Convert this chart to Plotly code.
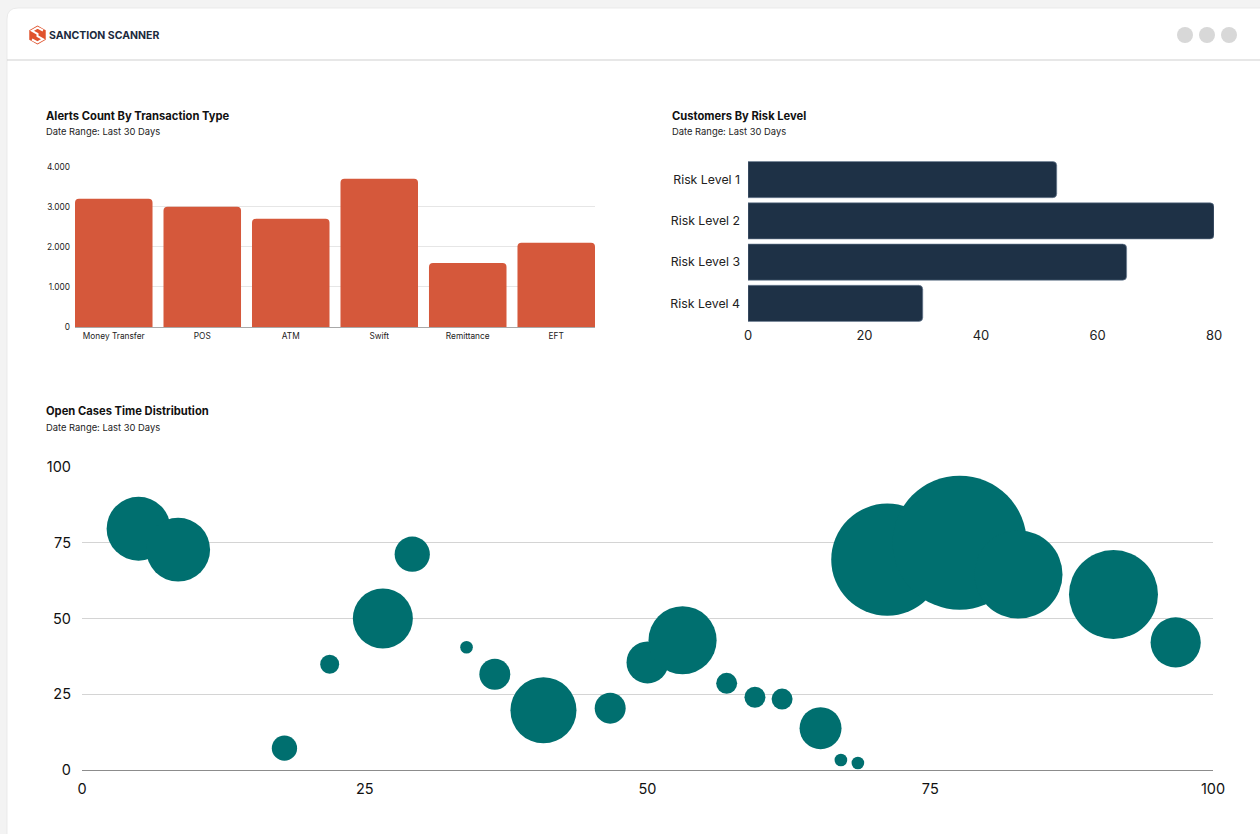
import plotly.graph_objects as go
import math

W, H = 1260, 834

# ---------------- data ----------------
tx_types = ["Money Transfer", "POS", "ATM", "Swift", "Remittance", "EFT"]
alerts_count = [3200, 3000, 2700, 3700, 1600, 2100]

risk_levels = ["Risk Level 1", "Risk Level 2", "Risk Level 3", "Risk Level 4"]
customers = [53, 80, 65, 30]

case_x = [5, 8.5, 17.9, 21.9, 26.6, 29.2, 34, 36.5, 40.8, 46.7, 50, 53.1,
          57, 59.5, 61.9, 65.3, 67.1, 68.6, 71.2, 77.6, 82.8, 91.2, 96.7]
case_y = [79.6, 72.7, 7.2, 34.9, 50, 71.2, 40.5, 31.6, 19.7, 20.4, 35.5, 42.8,
          28.6, 24, 23.4, 13.8, 3.3, 2.3, 69.4, 75, 64.5, 57.9, 42.1]
case_volume = [102, 102, 16, 9, 90, 31, 4, 24, 109, 24, 44, 116,
               11, 11, 11, 44, 4, 4, 314, 449, 194, 198, 63]

bar_ticks = [0, 1000, 2000, 3000, 4000]
risk_ticks = [0, 20, 40, 60, 80]
case_ticks = [0, 25, 50, 75, 100]

# ---------------- helpers ----------------
def px(x):
    return x / W

def py(y):
    return 1 - y / H

FONT = "Inter"
ORANGE = "#d5583b"
NAVY = "#1e3146"
TEAL = "#006f6f"

fig = go.Figure()
fig.add_trace(go.Bar(x=tx_types, y=alerts_count, marker=dict(color=ORANGE, line=dict(width=0)),
                     xaxis="x", yaxis="y"))
fig.add_trace(go.Bar(y=risk_levels, x=customers, orientation="h",
                     marker=dict(color=NAVY, line=dict(width=0.6, color="#6f8197")),
                     xaxis="x2", yaxis="y2"))
fig.add_trace(go.Scatter(x=case_x, y=case_y, mode="markers",
                         marker=dict(size=case_volume, sizemode="area", sizeref=0.05,
                                     color=TEAL, opacity=1, line=dict(width=0)),
                         xaxis="x3", yaxis="y3", cliponaxis=False))

# ---------------- card / header shapes ----------------
shapes = []
r = 11
x0, y0, x1, y1 = 7, 8, 1262, 840
path = (f"M {px(x0)},{py(y0 + r)} Q {px(x0)},{py(y0)} {px(x0 + r)},{py(y0)} "
        f"L {px(x1)},{py(y0)} L {px(x1)},{py(y1)} L {px(x0)},{py(y1)} Z")
shapes.append(dict(type="path", xref="paper", yref="paper", path=path,
                   fillcolor="white", line=dict(width=0.8, color="#e6e6e6"), layer="below"))
shapes.append(dict(type="line", xref="paper", yref="paper", x0=px(7), x1=px(1260),
                   y0=py(60), y1=py(60), line=dict(color="#cfcfcf", width=1.2), layer="below"))
for cx in [1185, 1207, 1229]:
    rr = 8
    shapes.append(dict(type="circle", xref="paper", yref="paper",
                       x0=px(cx - rr), x1=px(cx + rr), y0=py(35 + rr), y1=py(35 - rr),
                       fillcolor="#d8d8d8", line=dict(width=0)))
hx, hy, hr = 37.5, 35, 9.5
pts = [(hx + hr * math.cos(math.radians(90 + 60 * k)), hy - hr * math.sin(math.radians(90 + 60 * k)))
       for k in range(6)]
hexpath = "M " + " L ".join(f"{px(a)},{py(b)}" for a, b in pts) + " Z"
shapes.append(dict(type="path", xref="paper", yref="paper", path=hexpath,
                   fillcolor="#e0532d", line=dict(width=0)))
spts = [(hx + 5.5, hy - 4.5), (hx, hy - 7.3), (hx - 5.5, hy - 4.2), (hx, hy - 1.2),
        (hx + 0.0, hy + 1.2), (hx + 5.5, hy + 4.2), (hx, hy + 7.3), (hx - 5.5, hy + 4.5)]
spath = "M " + " L ".join(f"{px(a)},{py(b)}" for a, b in spts)
shapes.append(dict(type="path", xref="paper", yref="paper", path=spath,
                   line=dict(color="white", width=2)))

# ---------------- annotations ----------------
ann = []
def text(x, y, s, size, bold=False, color="#111111"):
    ann.append(dict(xref="paper", yref="paper", x=px(x), y=py(y), text=f"<b>{s}</b>" if bold else s,
                    showarrow=False, xanchor="left", yanchor="middle",
                    font=dict(family=FONT, size=size, color=color)))

text(47, 35.5, "SANCTION SCANNER", 10.5, bold=True, color="#1b2a3d")
text(44, 116, "Alerts Count By Transaction Type", 11.2, bold=True)
text(44, 131, "Date Range: Last 30 Days", 9.4, color="#222222")
text(670, 116, "Customers By Risk Level", 11.2, bold=True)
text(670, 131, "Date Range: Last 30 Days", 9.4, color="#222222")
text(44, 411, "Open Cases Time Distribution", 11.2, bold=True)
text(44, 427, "Date Range: Last 30 Days", 9.4, color="#222222")

# ---------------- layout ----------------
g1 = 0.124
fig.update_layout(
    width=W, height=H, margin=dict(l=0, r=0, t=0, b=0, pad=0, autoexpand=False),
    paper_bgcolor="#f3f3f3", plot_bgcolor="rgba(0,0,0,0)",
    showlegend=False, separators=",.", barcornerradius=4, bargap=g1,
    font=dict(family=FONT, color="#111111"), shapes=shapes, annotations=ann,
    xaxis=dict(domain=[px(75), px(595)], type="category", range=[-0.5 + g1 / 2, 5.5 - g1 / 2],
               showgrid=False, tickfont=dict(size=8.3, color="#222222"), ticks="", fixedrange=True,
               automargin=False, ticklabelstandoff=3),
    yaxis=dict(domain=[py(327), py(166.5)], range=[0, 4005], tickvals=bar_ticks, tickformat=",d",
               showgrid=True, gridcolor="#e6e6e6", zeroline=True, zerolinecolor="#a8a8a8",
               zerolinewidth=1.2, tickfont=dict(size=8.3, color="#222222"), ticks="", fixedrange=True,
               automargin=False, ticklabelstandoff=4),
    xaxis2=dict(domain=[px(748), px(1214)], range=[0, 80], tickvals=risk_ticks, showgrid=False,
                zeroline=False, tickfont=dict(size=13, color="#222222"), anchor="y2", fixedrange=True,
                automargin=False, ticklabelstandoff=2),
    yaxis2=dict(domain=[py(324), py(159)], type="category", categoryarray=risk_levels,
                autorange="reversed", showgrid=False, zeroline=False,
                tickfont=dict(size=12.3, color="#222222"), ticks="", anchor="x2", fixedrange=True,
                ticklabelstandoff=7, automargin=False),
    xaxis3=dict(domain=[px(82), px(1213)], range=[0, 100], tickvals=case_ticks, showgrid=False,
                zeroline=False, tickfont=dict(size=14.5, color="#111111"), anchor="y3", fixedrange=True,
                automargin=False, ticklabelstandoff=8),
    yaxis3=dict(domain=[py(770), py(466)], range=[0, 100.3], tickvals=case_ticks, showgrid=True,
                gridcolor="#d4d4d4", zeroline=True, zerolinecolor="#8c8c8c", zerolinewidth=1.3,
                tickfont=dict(size=14.5, color="#111111"), anchor="x3", fixedrange=True,
                ticklabelstandoff=10, automargin=False),
)

fig.write_html("out.html", config={"displayModeBar": False},
               post_script="document.body.style.margin='0';")
